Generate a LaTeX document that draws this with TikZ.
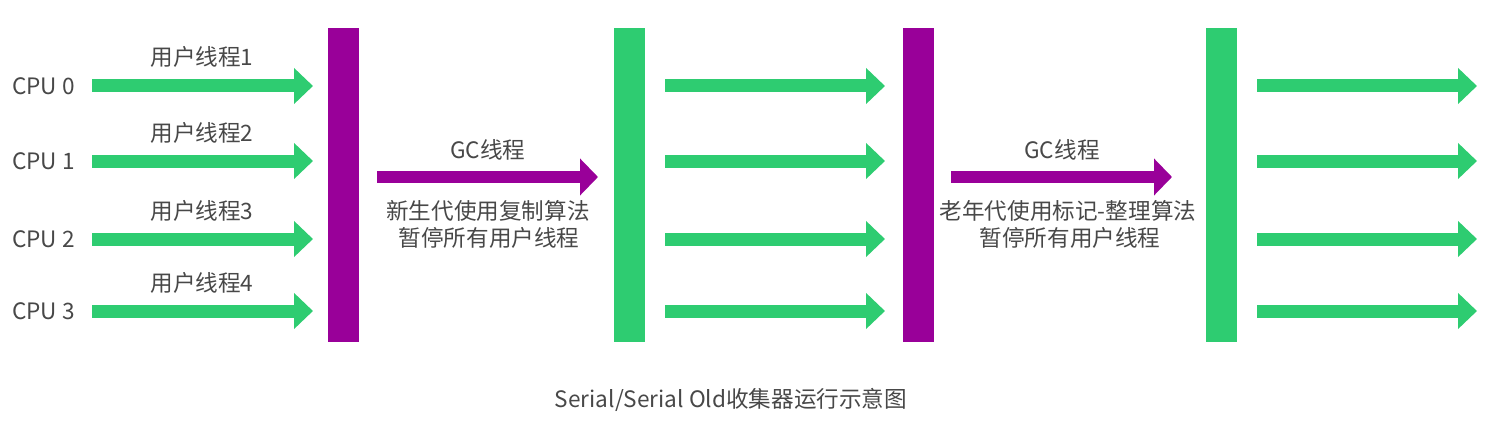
\documentclass[tikz,border=0pt]{standalone}
\usepackage{fontspec}
\setmainfont{Noto Sans CJK SC}
\usetikzlibrary{arrows.meta}
\definecolor{cgreen}{RGB}{46,204,113}
\definecolor{cpurple}{RGB}{153,0,153}
\definecolor{ctext}{RGB}{72,72,72}
\begin{document}
\begin{tikzpicture}[x=1pt,y=-1pt,
  bar/.style={rectangle, inner sep=0pt, minimum width=31pt, minimum height=314pt},
  garrow/.style={draw=cgreen, line width=13pt, -{Triangle[length=19pt,width=35pt]}},
  parrow/.style={draw=cpurple, line width=12pt, -{Triangle[length=18pt,width=36pt]}},
  lbl/.style={text=ctext, font=\fontsize{22.6}{27}\selectfont, inner sep=0pt, align=center}]
\useasboundingbox (0,0) rectangle (1492,428);
% bars
\node[bar, fill=cpurple] (b1) at (343.5,185) {};
\node[bar, fill=cgreen] (b2) at (629,185) {};
\node[bar, fill=cpurple] (b3) at (918,185) {};
\node[bar, fill=cgreen] (b4) at (1221,185) {};
% CPU labels
\node[lbl, anchor=west] (c0) at (12,86) {CPU 0};
\node[lbl, anchor=west] (c1) at (12,161) {CPU 1};
\node[lbl, anchor=west] (c2) at (12,239) {CPU 2};
\node[lbl, anchor=west] (c3) at (12,311) {CPU 3};
% user thread labels
\node[lbl] (u1) at (202,57) {用户线程1};
\node[lbl] (u2) at (202,133) {用户线程2};
\node[lbl] (u3) at (202,211) {用户线程3};
\node[lbl] (u4) at (202,283) {用户线程4};
% arrow endpoints
\foreach \i/\y in {0/86,1/161,2/239,3/311}{
  \coordinate (as\i) at (92,\y);  \coordinate (ae\i) at (313,\y);
  \coordinate (bs\i) at (665,\y); \coordinate (be\i) at (885,\y);
  \coordinate (cs\i) at (1257,\y); \coordinate (ce\i) at (1477,\y);
}
\foreach \i in {0,1,2,3}{
  \draw[garrow] (as\i) -- (ae\i);
  \draw[garrow] (bs\i) -- (be\i);
  \draw[garrow] (cs\i) -- (ce\i);
}
\coordinate (p1s) at (377,177); \coordinate (p1e) at (598,177);
\coordinate (p2s) at (951,177); \coordinate (p2e) at (1172,177);
\draw[parrow] (p1s) -- (p1e);
\draw[parrow] (p2s) -- (p2e);
% GC labels
\node[lbl] (g1) at (488,150) {GC线程};
\node[lbl] (g1a) at (488,211) {新生代使用复制算法};
\node[lbl] (g1b) at (489,238) {暂停所有用户线程};
\node[lbl] (g2) at (1062,150) {GC线程};
\node[lbl] (g2a) at (1068,211) {老年代使用标记-整理算法};
\node[lbl] (g2b) at (1070,238) {暂停所有用户线程};
% caption
\node[lbl, font=\fontsize{22.6}{27}\selectfont] (cap) at (731,400) {Serial/Serial Old收集器运行示意图};
\end{tikzpicture}
\end{document}
